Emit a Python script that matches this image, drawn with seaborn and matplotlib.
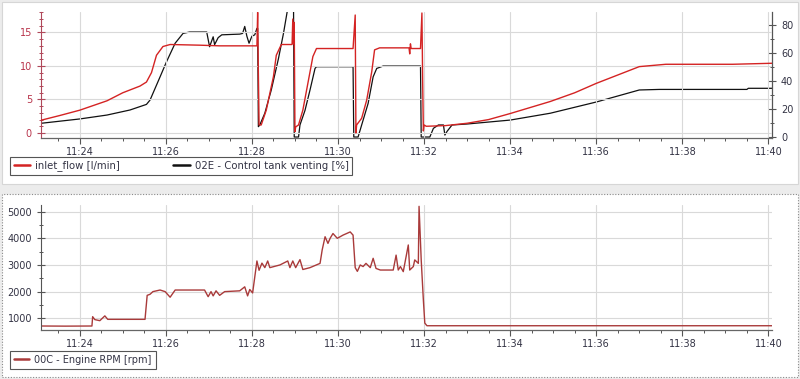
import numpy as np
import pandas as pd
import matplotlib
matplotlib.use("Agg")
import matplotlib.pyplot as plt
import matplotlib.dates as mdates
from matplotlib.patches import Rectangle
from matplotlib.lines import Line2D
import seaborn as sns

# ---------------- data ----------------
flow_time = ["11:23:06", "11:23:32", "11:24:00", "11:24:38", "11:25:00", "11:25:24", "11:25:33",
             "11:25:40", "11:25:47", "11:25:56", "11:26:06", "11:26:47", "11:27:15", "11:28:07",
             "11:28:08", "11:28:09", "11:28:10", "11:28:13", "11:28:20", "11:28:30", "11:28:34",
             "11:28:41", "11:28:56", "11:28:57", "11:28:58", "11:28:59", "11:29:00", "11:29:01",
             "11:29:05", "11:29:11", "11:29:18", "11:29:25", "11:29:30", "11:30:21", "11:30:24",
             "11:30:25", "11:30:26", "11:30:33", "11:30:40", "11:30:47", "11:30:51", "11:30:58",
             "11:31:39", "11:31:40", "11:31:41", "11:31:42", "11:31:55", "11:31:57", "11:31:58",
             "11:31:59", "11:32:00", "11:32:03", "11:32:30", "11:33:00", "11:33:30", "11:34:00",
             "11:34:56", "11:35:30", "11:36:00", "11:37:00", "11:37:37", "11:39:10", "11:40:05"]
flow_val = [1.9, 2.6, 3.4, 4.8, 6.0, 7.0, 7.6,
            9.0, 11.6, 12.9, 13.2, 13.1, 13.0, 13.0,
            18.0, 9.0, 1.2, 1.2, 3.4, 8.4, 11.6,
            13.2, 13.2, 17.0, 13.3, 16.5, 0.2, 0.9,
            1.2, 3.4, 7.4, 11.4, 12.6, 12.6, 17.6,
            0.0, 1.2, 2.2, 4.9, 9.1, 12.4, 12.7,
            12.7, 11.8, 13.3, 12.6, 12.6, 17.9, 8.0,
            0.3, 1.2, 1.0, 1.1, 1.45, 2.0, 2.9,
            4.7, 6.0, 7.4, 9.9, 10.25, 10.25, 10.4]

vent_time = ["11:23:06", "11:24:00", "11:24:38", "11:25:10", "11:25:33", "11:25:38", "11:25:52",
             "11:26:01", "11:26:13", "11:26:24", "11:26:33", "11:26:57", "11:27:01", "11:27:06",
             "11:27:08", "11:27:13", "11:27:18", "11:27:43", "11:27:47", "11:27:50", "11:27:53",
             "11:27:56", "11:28:00", "11:28:04", "11:28:07", "11:28:08", "11:28:09", "11:28:11",
             "11:28:18", "11:28:27", "11:28:37", "11:28:44", "11:28:51", "11:28:58", "11:28:59",
             "11:29:05", "11:29:07", "11:29:14", "11:29:21", "11:29:28", "11:29:30", "11:30:21",
             "11:30:22", "11:30:28", "11:30:33", "11:30:42", "11:30:49", "11:30:54", "11:31:03",
             "11:31:55", "11:31:56", "11:32:08", "11:32:13", "11:32:20", "11:32:27", "11:32:29",
             "11:32:32", "11:32:39", "11:33:00", "11:34:00", "11:34:56", "11:36:00", "11:37:00",
             "11:37:28", "11:39:30", "11:39:32", "11:40:05"]
vent_val = [9.8, 12.9, 15.7, 19.3, 23.3, 26.4, 43,
            53.8, 67, 74, 75, 75, 64.5, 71.6,
            66, 71, 73, 73.5, 74, 79, 72,
            67, 72, 73, 77.6, 77.6, 7.4, 8.6,
            17, 33.6, 56, 74, 95, 95, 0,
            0, 8.6, 19, 33.6, 49, 50.2, 50.2,
            0, 0, 8.6, 24, 43, 49, 50.7,
            50.7, 0, 0, 6.2, 8.6, 8.6, 1.4,
            4, 8.6, 9.3, 12.1, 17, 25, 33.6,
            34, 34, 34.8, 34.8]

rpm_time = ["11:23:06", "11:23:40", "11:24:17", "11:24:18", "11:24:21", "11:24:28", "11:24:35",
            "11:24:39", "11:25:31", "11:25:34", "11:25:38", "11:25:42", "11:25:52", "11:25:59",
            "11:26:06", "11:26:13", "11:26:54", "11:26:59", "11:27:03", "11:27:06", "11:27:10",
            "11:27:15", "11:27:22", "11:27:43", "11:27:50", "11:27:54", "11:27:57", "11:28:01",
            "11:28:07", "11:28:10", "11:28:14", "11:28:18", "11:28:22", "11:28:25", "11:28:39",
            "11:28:50", "11:28:53", "11:28:57", "11:29:01", "11:29:07", "11:29:11", "11:29:21",
            "11:29:35", "11:29:38", "11:29:42", "11:29:46", "11:29:49", "11:29:53", "11:29:59",
            "11:30:07", "11:30:17", "11:30:21", "11:30:24", "11:30:27", "11:30:31", "11:30:35",
            "11:30:39", "11:30:45", "11:30:49", "11:30:53", "11:30:59", "11:31:17", "11:31:21",
            "11:31:24", "11:31:27", "11:31:31", "11:31:38", "11:31:40", "11:31:45", "11:31:47",
            "11:31:52", "11:31:53", "11:31:56", "11:31:59", "11:32:01", "11:32:04", "11:40:05"]
rpm_val = [710, 705, 710, 1060, 950, 910, 1090,
           960, 960, 1860, 1900, 2000, 2060, 2000,
           1790, 2060, 2060, 1810, 2000, 1840, 2030,
           1860, 2000, 2030, 2180, 1840, 2080, 1950,
           3150, 2800, 3070, 2900, 3150, 2900, 3000,
           3150, 2900, 3150, 2900, 3200, 2830, 2900,
           3060, 3570, 4060, 3810, 4000, 4180, 4000,
           4120, 4240, 4120, 2900, 2760, 3000, 2940,
           3060, 2900, 3250, 2870, 2810, 2810, 3370,
           2810, 2940, 2750, 3750, 2810, 2940, 3190,
           3060, 5200, 3190, 1690, 820, 720, 720]

x_start, x_end = "11:23:06", "11:40:05"
flow_label = "inlet_flow [l/min]"
vent_label = "02E - Control tank venting [%]"
rpm_label = "00C - Engine RPM [rpm]"

# ---------------- helpers ----------------
DAY = "2020-01-01 "
def to_dt(ts):
    return pd.to_datetime([DAY + t for t in ts])

flow_df = pd.DataFrame({"time": to_dt(flow_time), "value": flow_val})
vent_df = pd.DataFrame({"time": to_dt(vent_time), "value": vent_val})
rpm_df = pd.DataFrame({"time": to_dt(rpm_time), "value": rpm_val})
xlim = (pd.Timestamp(DAY + x_start), pd.Timestamp(DAY + x_end))

sns.set_style("white")
plt.rcParams["font.family"] = ["DejaVu Sans"]
plt.rcParams["font.size"] = 7

W, H = 800, 379
fig = plt.figure(figsize=(W / 100, H / 100), dpi=100, facecolor="#ececec")

def fx(px):
    return px / W
def fy(py):
    return 1 - py / H

# panels (behind the axes)
fig.patches.append(Rectangle((fx(2), fy(184)), fx(796), 182 / H, transform=fig.transFigure,
                             facecolor="white", edgecolor="#d6d6d6", lw=0.8, zorder=-10))
fig.patches.append(Rectangle((fx(2), fy(377)), fx(796), 183 / H, transform=fig.transFigure,
                             facecolor="white", edgecolor="#8a8a8a", lw=0.8, ls=(0, (1, 1.5)),
                             zorder=-10))

RED = "#d42323"
DARKRED = "#a93a3a"
BLACK = "#111111"
GRID = "#d9d9d9"
TXT = "#333344"
FS = 7

def style_xaxis(ax):
    ax.set_xlim(*xlim)
    ax.xaxis.set_major_locator(mdates.MinuteLocator(byminute=range(0, 60, 2)))
    ax.xaxis.set_minor_locator(mdates.SecondLocator(bysecond=[0, 30]))
    ax.xaxis.set_major_formatter(mdates.DateFormatter("%H:%M"))
    ax.grid(True, which="major", color=GRID, lw=0.8)
    ax.tick_params(axis="x", which="major", length=4, width=0.8, color="#555555", labelcolor=TXT,
                   labelsize=FS, pad=2.5, bottom=True)
    ax.tick_params(axis="x", which="minor", length=2.5, width=0.7, color="#555555", bottom=True)
    ax.set_xlabel("")
    ax.set_ylabel("")
    for s in ["top", "right"]:
        ax.spines[s].set_visible(False)
    ax.spines["bottom"].set_color("#666666")
    ax.spines["bottom"].set_linewidth(0.9)

# ---------------- top panel ----------------
ax1 = fig.add_axes([fx(41), fy(138), fx(731), 126 / H])
ax1.set_zorder(2)
ax1.set_facecolor("white")
sns.lineplot(data=flow_df, x="time", y="value", ax=ax1, color=RED, lw=1.0, zorder=3)
ax1.set_ylim(-0.75, 18.05)
ax1.set_yticks([0, 5, 10, 15])
ax1.yaxis.set_minor_locator(plt.MultipleLocator(1))
style_xaxis(ax1)
ax1.spines["left"].set_color("#b0485a")
ax1.tick_params(axis="y", which="major", direction="inout", length=6, width=0.8,
                color="#b0485a", labelcolor="#b8334a", labelsize=FS, left=True)
ax1.tick_params(axis="y", which="minor", direction="inout", length=3, width=0.7,
                color="#b0485a", left=True)

ax2 = ax1.twinx()
ax2.set_zorder(1)
ax1.patch.set_visible(False)
ax2.set_facecolor("white")
sns.lineplot(data=vent_df, x="time", y="value", ax=ax2, color=BLACK, lw=0.9)
ax2.set_ylim(-0.7, 89.3)
ax2.set_yticks([0, 20, 40, 60, 80])
ax2.yaxis.set_minor_locator(plt.MultipleLocator(10))
ax2.set_xlim(*xlim)
ax2.set_ylabel("")
ax2.set_xlabel("")
for s in ["top", "left", "bottom"]:
    ax2.spines[s].set_visible(False)
ax2.spines["right"].set_color("#555555")
ax2.spines["right"].set_linewidth(0.9)
ax2.tick_params(axis="y", which="major", direction="inout", length=6, width=0.8,
                color="#555555", labelcolor=TXT, labelsize=FS, right=True)
ax2.tick_params(axis="y", which="minor", direction="inout", length=3, width=0.7,
                color="#555555", right=True)
ax2.tick_params(axis="x", bottom=False, labelbottom=False)
ax2.grid(False)

h1 = [Line2D([], [], color=RED, lw=1.8), Line2D([], [], color=BLACK, lw=1.8)]
leg1 = fig.legend(h1, [flow_label, vent_label], loc="upper left",
                  bbox_to_anchor=(fx(10), fy(157)), ncol=2, frameon=True, fancybox=False,
                  edgecolor="#555555", framealpha=1, fontsize=FS + 0.3, handlelength=1.6,
                  handletextpad=0.5, columnspacing=5.3, borderpad=0.35, borderaxespad=0)
leg1.get_frame().set_linewidth(0.8)
for t in leg1.get_texts():
    t.set_color(TXT)

# ---------------- bottom panel ----------------
ax3 = fig.add_axes([fx(41), fy(330), fx(731), 125 / H])
ax3.set_zorder(2)
ax3.set_facecolor("white")
sns.lineplot(data=rpm_df, x="time", y="value", ax=ax3, color=DARKRED, lw=1.0)
ax3.set_ylim(560, 5250)
ax3.set_yticks([1000, 2000, 3000, 4000, 5000])
ax3.yaxis.set_minor_locator(plt.MultipleLocator(500))
style_xaxis(ax3)
ax3.spines["left"].set_color("#555555")
ax3.tick_params(axis="y", which="major", direction="inout", length=6, width=0.8,
                color="#555555", labelcolor=TXT, labelsize=FS, left=True)
ax3.tick_params(axis="y", which="minor", direction="inout", length=3, width=0.7,
                color="#555555", left=True)

h3 = [Line2D([], [], color=DARKRED, lw=1.8)]
leg3 = fig.legend(h3, [rpm_label], loc="upper left", bbox_to_anchor=(fx(10), fy(351)),
                  frameon=True, fancybox=False, edgecolor="#555555", framealpha=1,
                  fontsize=FS, handlelength=1.6, handletextpad=0.5, borderpad=0.4,
                  borderaxespad=0)
leg3.get_frame().set_linewidth(0.8)
for t in leg3.get_texts():
    t.set_color(TXT)

fig.savefig("out.png", dpi=100, facecolor=fig.get_facecolor())
